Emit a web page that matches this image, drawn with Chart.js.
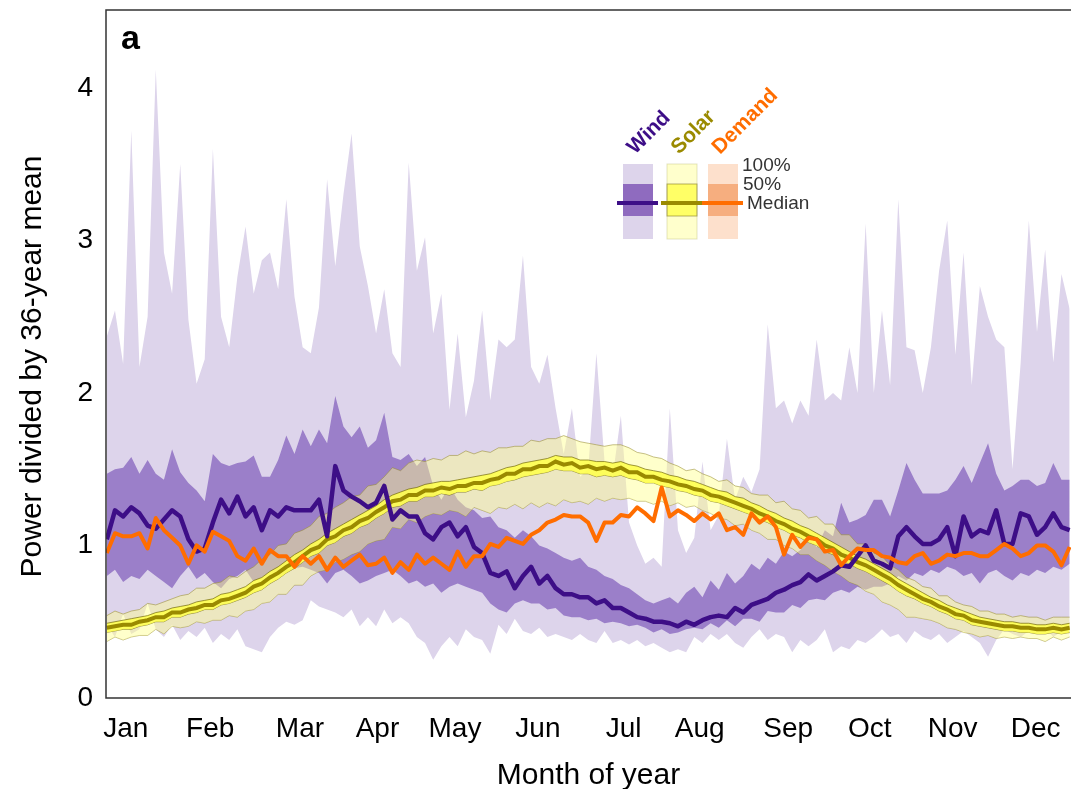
<!DOCTYPE html>
<html>
<head>
<meta charset="utf-8">
<script src="https://cdn.jsdelivr.net/npm/chart.js@4.4.1/dist/chart.umd.min.js"></script>
<style>
  html, body { margin: 0; padding: 0; background: #fff; overflow: hidden; }
</style>
</head>
<body>
<canvas id="chart" width="1071" height="789"></canvas>
<script>
// day of year for every sample
const days = [8,11,14,17,20,23,26,29,32,35,38,41,44,47,50,53,56,59,62,65,68,71,74,77,
  80,83,86,89,92,95,98,101,104,107,110,113,116,119,122,125,128,131,134,137,140,143,146,149,
  152,155,158,161,164,167,170,173,176,179,182,185,188,191,194,197,200,203,206,209,212,215,218,
  221,224,227,230,233,236,239,242,245,248,251,254,257,260,263,266,269,272,275,278,281,284,287,290,
  293,296,299,302,305,308,311,314,317,320,323,326,329,332,335,338,341,344,347,350,353,356,359,362];

const monthNames = ["Jan","Feb","Mar","Apr","May","Jun","Jul","Aug","Sep","Oct","Nov","Dec"];
const monthDays = [15,46,79,107.5,136,166.5,198,226,258.5,288.5,319,349.5];
const yTicks = [0,1,2,3,4];

const windMax = [2.37,2.54,2.19,3.72,2.17,2.50,4.12,2.92,2.65,3.50,2.48,2.06,2.22,3.60,2.50,2.30,2.76,3.09,2.65,2.87,2.92,2.68,3.27,2.63,
  2.30,2.26,2.56,3.40,2.83,3.30,3.70,2.96,2.70,2.39,2.68,2.26,2.17,3.51,2.80,3.02,2.39,2.65,1.89,2.39,1.84,2.08,2.54,1.95,
  2.35,2.30,2.35,2.90,2.17,2.06,2.25,1.90,1.60,1.90,1.45,1.50,2.26,1.55,1.45,1.85,1.15,1.00,0.88,0.92,0.86,1.90,1.10,
  0.95,1.05,1.55,1.10,1.20,1.70,1.30,1.45,1.35,1.50,2.45,1.90,1.95,1.80,1.95,1.85,2.35,1.95,2.00,1.95,2.30,2.00,3.11,2.00,
  2.54,2.05,3.27,2.30,2.28,2.00,2.30,2.80,3.13,2.25,2.92,2.05,2.70,2.50,2.35,2.30,1.50,2.20,3.13,2.40,2.94,2.20,2.78,2.55];

const windMin = [0.48,0.40,0.55,0.42,0.45,0.62,0.45,0.40,0.48,0.38,0.44,0.40,0.46,0.36,0.42,0.38,0.45,0.34,0.32,0.30,0.40,0.46,0.50,0.48,
  0.51,0.64,0.60,0.58,0.56,0.53,0.58,0.47,0.53,0.47,0.58,0.49,0.53,0.49,0.40,0.36,0.25,0.34,0.40,0.34,0.45,0.40,0.38,0.29,
  0.48,0.42,0.52,0.44,0.42,0.46,0.40,0.42,0.40,0.38,0.42,0.38,0.36,0.44,0.36,0.38,0.35,0.38,0.34,0.36,0.33,0.30,0.32,
  0.30,0.40,0.36,0.42,0.38,0.42,0.36,0.33,0.40,0.45,0.38,0.42,0.40,0.30,0.38,0.34,0.38,0.45,0.30,0.34,0.32,0.38,0.36,0.40,
  0.45,0.40,0.42,0.36,0.44,0.40,0.38,0.42,0.36,0.40,0.44,0.40,0.36,0.27,0.38,0.45,0.42,0.40,0.44,0.42,0.46,0.40,0.44,0.42];

const windQ75 = [1.47,1.50,1.51,1.58,1.47,1.56,1.47,1.43,1.63,1.48,1.41,1.36,1.29,1.60,1.54,1.52,1.54,1.55,1.59,1.45,1.45,1.56,1.72,1.60,
  1.76,1.65,1.76,1.67,1.98,1.78,1.71,1.78,1.64,1.69,1.87,1.58,1.56,1.60,1.52,1.58,1.39,1.30,1.39,1.30,1.25,1.23,1.18,1.19,
  1.12,1.10,1.05,1.10,1.06,1.00,0.98,0.95,0.92,0.90,0.92,0.86,0.84,0.80,0.78,0.74,0.72,0.68,0.64,0.62,0.64,0.66,0.62,
  0.69,0.73,0.66,0.77,0.71,0.82,0.75,0.80,0.88,0.84,0.92,0.88,0.96,0.93,0.97,1.04,0.99,1.10,1.06,1.28,1.15,1.17,1.20,1.30,
  1.30,1.19,1.36,1.54,1.43,1.34,1.34,1.34,1.36,1.43,1.52,1.41,1.54,1.67,1.47,1.36,1.39,1.43,1.43,1.39,1.41,1.54,1.43,1.43];

const windQ25 = [0.80,0.84,0.76,0.80,0.78,0.84,0.80,0.76,0.72,0.80,0.86,0.78,0.82,0.76,0.72,0.78,0.80,0.84,0.76,0.79,0.83,0.80,0.82,0.85,
  0.86,0.84,0.82,0.75,0.82,0.84,0.80,0.75,0.77,0.80,0.82,0.84,0.80,0.75,0.77,0.73,0.75,0.69,0.73,0.75,0.73,0.71,0.69,0.62,
  0.58,0.56,0.62,0.64,0.62,0.62,0.58,0.59,0.54,0.53,0.53,0.51,0.52,0.49,0.50,0.49,0.47,0.48,0.46,0.43,0.45,0.42,0.43,
  0.45,0.46,0.45,0.49,0.46,0.51,0.47,0.52,0.52,0.50,0.57,0.56,0.56,0.61,0.59,0.64,0.65,0.64,0.69,0.71,0.69,0.73,0.71,0.73,
  0.73,0.75,0.80,0.77,0.82,0.80,0.84,0.82,0.86,0.84,0.80,0.82,0.75,0.82,0.84,0.80,0.77,0.82,0.80,0.84,0.82,0.86,0.84,0.88];

const windMedian = [1.04,1.23,1.19,1.25,1.21,1.13,1.11,1.17,1.23,1.19,1.04,0.96,0.98,1.15,1.30,1.21,1.32,1.19,1.25,1.10,1.23,1.19,1.25,1.23,
  1.23,1.23,1.30,1.06,1.52,1.36,1.32,1.29,1.25,1.28,1.39,1.17,1.23,1.19,1.19,1.08,1.04,1.12,1.15,1.06,1.12,0.99,0.95,0.82,
  0.80,0.83,0.72,0.80,0.86,0.75,0.80,0.72,0.68,0.68,0.66,0.66,0.62,0.64,0.59,0.59,0.56,0.53,0.52,0.50,0.50,0.49,0.47,
  0.50,0.48,0.51,0.53,0.54,0.53,0.59,0.56,0.61,0.63,0.65,0.69,0.71,0.74,0.76,0.81,0.77,0.80,0.83,0.87,0.86,0.93,1.00,0.90,
  0.88,0.85,1.06,1.12,1.06,1.01,1.01,1.04,1.12,0.93,1.19,1.06,1.10,1.08,1.23,1.01,1.01,1.21,1.19,1.07,1.12,1.21,1.12,1.10];

const solarMax = [0.54,0.57,0.55,0.57,0.58,0.62,0.61,0.63,0.65,0.67,0.68,0.72,0.72,0.75,0.76,0.80,0.79,0.83,0.86,0.91,
  0.94,1.00,1.01,1.08,1.10,1.13,1.19,1.21,1.25,1.28,1.32,1.33,1.39,1.40,1.45,1.51,1.49,1.54,1.56,1.55,
  1.57,1.56,1.59,1.59,1.62,1.60,1.62,1.61,1.64,1.64,1.65,1.65,1.69,1.68,1.70,1.70,1.72,1.70,1.68,1.67,
  1.66,1.65,1.66,1.66,1.64,1.61,1.60,1.58,1.57,1.54,1.52,1.49,1.50,1.47,1.45,1.42,1.43,1.39,1.38,1.34,
  1.33,1.33,1.28,1.29,1.24,1.23,1.18,1.19,1.14,1.14,1.07,1.07,1.01,1.01,0.95,0.93,0.87,0.84,0.79,0.77,
  0.73,0.72,0.67,0.67,0.63,0.61,0.60,0.57,0.57,0.55,0.55,0.53,0.54,0.53,0.53,0.51,0.53,0.53,0.53];

const solarMin = [0.37,0.40,0.38,0.40,0.41,0.41,0.45,0.42,0.47,0.46,0.47,0.50,0.49,0.51,0.51,0.54,0.53,0.57,0.58,0.62,
  0.63,0.68,0.68,0.74,0.74,0.80,0.83,0.84,0.89,0.91,0.94,0.96,1.01,1.03,1.04,1.12,1.11,1.17,1.15,1.19,
  1.21,1.20,1.23,1.22,1.19,1.25,1.23,1.21,1.25,1.24,1.27,1.24,1.28,1.25,1.28,1.26,1.30,1.28,1.29,1.27,
  1.31,1.29,1.31,1.30,1.31,1.29,1.29,1.27,1.29,1.26,1.28,1.25,1.26,1.23,1.21,1.18,1.17,1.13,1.14,1.10,
  1.08,1.04,1.04,1.00,0.98,0.94,0.94,0.90,0.87,0.83,0.80,0.76,0.74,0.70,0.68,0.63,0.61,0.58,0.53,0.53,
  0.52,0.51,0.49,0.46,0.45,0.43,0.42,0.40,0.41,0.39,0.40,0.39,0.40,0.39,0.39,0.37,0.40,0.38,0.40];

const solarQ75 = [0.49,0.50,0.51,0.52,0.53,0.54,0.56,0.57,0.59,0.60,0.61,0.63,0.64,0.65,0.68,0.69,0.71,0.73,0.77,0.79,
  0.83,0.86,0.90,0.94,0.97,1.01,1.04,1.08,1.11,1.14,1.17,1.20,1.23,1.26,1.30,1.33,1.35,1.37,1.38,1.40,
  1.41,1.42,1.42,1.43,1.44,1.45,1.46,1.47,1.49,1.51,1.52,1.54,1.55,1.56,1.57,1.59,1.58,1.58,1.56,1.56,
  1.55,1.55,1.54,1.55,1.53,1.52,1.50,1.49,1.48,1.46,1.45,1.43,1.42,1.40,1.38,1.36,1.35,1.32,1.31,1.28,
  1.26,1.23,1.21,1.18,1.16,1.13,1.11,1.08,1.05,1.02,0.99,0.96,0.93,0.91,0.88,0.85,0.82,0.78,0.75,0.72,
  0.69,0.66,0.64,0.61,0.59,0.57,0.55,0.53,0.52,0.51,0.50,0.50,0.49,0.49,0.48,0.48,0.49,0.48,0.49];

const solarQ25 = [0.43,0.44,0.45,0.45,0.47,0.48,0.50,0.50,0.53,0.53,0.55,0.56,0.58,0.58,0.61,0.62,0.64,0.66,0.69,0.71,
  0.75,0.78,0.82,0.85,0.89,0.93,0.95,1.00,1.02,1.06,1.08,1.12,1.14,1.18,1.21,1.25,1.26,1.29,1.29,1.32,
  1.32,1.34,1.33,1.35,1.35,1.37,1.36,1.39,1.40,1.42,1.43,1.45,1.46,1.47,1.48,1.50,1.49,1.49,1.47,1.47,
  1.45,1.46,1.45,1.46,1.44,1.43,1.41,1.41,1.39,1.38,1.36,1.35,1.33,1.32,1.29,1.28,1.26,1.24,1.22,1.20,
  1.17,1.15,1.12,1.10,1.07,1.05,1.02,1.00,0.96,0.94,0.90,0.88,0.85,0.83,0.80,0.77,0.74,0.70,0.67,0.65,
  0.62,0.60,0.57,0.55,0.52,0.51,0.48,0.47,0.46,0.45,0.44,0.44,0.43,0.43,0.42,0.42,0.43,0.42,0.43];

const solarMedian = [0.46,0.47,0.48,0.48,0.50,0.51,0.53,0.53,0.56,0.56,0.58,0.59,0.61,0.61,0.64,0.65,0.67,0.69,0.73,0.75,
  0.79,0.82,0.86,0.89,0.93,0.97,0.99,1.04,1.06,1.10,1.12,1.16,1.18,1.22,1.25,1.29,1.30,1.33,1.33,1.36,
  1.36,1.38,1.37,1.39,1.39,1.41,1.41,1.43,1.44,1.47,1.47,1.50,1.50,1.52,1.52,1.55,1.53,1.54,1.51,1.52,
  1.50,1.51,1.49,1.51,1.48,1.48,1.45,1.45,1.43,1.42,1.40,1.39,1.37,1.36,1.33,1.32,1.30,1.28,1.26,1.24,
  1.21,1.19,1.16,1.14,1.11,1.09,1.06,1.04,1.00,0.98,0.94,0.92,0.89,0.87,0.84,0.81,0.78,0.74,0.71,0.68,
  0.65,0.63,0.60,0.58,0.55,0.54,0.51,0.50,0.49,0.48,0.47,0.47,0.46,0.46,0.45,0.45,0.46,0.45,0.46];

const demandMedian = [0.95,1.08,1.06,1.06,1.08,0.98,1.18,1.10,1.05,1.00,0.88,1.00,0.96,1.09,1.06,1.03,0.93,0.90,0.98,0.88,0.97,0.93,0.93,0.86,
  0.93,0.88,0.93,0.84,0.92,0.86,0.90,0.94,0.87,0.88,0.92,0.82,0.89,0.84,0.94,0.88,0.92,0.88,0.84,0.96,0.86,0.93,0.93,1.01,
  0.99,1.05,1.03,1.01,1.07,1.10,1.15,1.17,1.20,1.19,1.19,1.15,1.03,1.15,1.15,1.20,1.19,1.25,1.21,1.16,1.38,1.19,1.23,
  1.20,1.16,1.21,1.17,1.21,1.10,1.12,1.07,1.21,1.15,1.19,1.12,0.94,1.07,0.99,1.05,1.04,0.96,0.97,0.87,0.93,0.98,0.97,0.97,
  0.93,0.92,0.89,0.88,0.93,0.95,0.88,0.90,0.94,0.93,0.95,0.95,0.93,0.93,0.97,1.01,0.98,0.93,0.95,1.00,1.00,0.96,0.87,0.99];

const FONT = "'Liberation Sans', Arial, Helvetica, sans-serif";
const WIND = "#3d0e87", SOLAR = "#9a8a00", DEMAND = "#ff6d00";

const pts = arr => arr.map((v, i) => ({ x: days[i], y: v }));

function edge(data, order, opts) {
    return Object.assign({
        data: pts(data),
        order,
        fill: false,
        borderWidth: 0,
        borderColor: "transparent",
        pointRadius: 0,
        tension: 0
    }, opts);
}

// frame: left, top and bottom lines only (right side runs off the picture)
const framePlugin = {
    id: "frame",
    afterDatasetsDraw(chart) {
        const { ctx, chartArea: a } = chart;
        ctx.save();
        ctx.strokeStyle = "#333";
        ctx.lineWidth = 1.5;
        ctx.beginPath();
        ctx.moveTo(a.right + 5, a.top);
        ctx.lineTo(a.left, a.top);
        ctx.lineTo(a.left, a.bottom);
        ctx.lineTo(a.right + 5, a.bottom);
        ctx.stroke();
        ctx.restore();
    }
};

// panel letter and the boxed key
const keyPlugin = {
    id: "key",
    afterDraw(chart) {
        const ctx = chart.ctx;
        ctx.save();
        ctx.fillStyle = "#000";
        ctx.font = "bold 34px " + FONT;
        ctx.textBaseline = "alphabetic";
        ctx.fillText("a", 121, 49);

        const cols = [
            { x: 623, outer: "#ddd4eb", inner: "#8f6bbf", line: WIND, name: "Wind", stroke: null },
            { x: 667, outer: "#ffffcc", inner: "#ffff66", line: SOLAR, name: "Solar", stroke: "rgba(130,120,40,0.6)" },
            { x: 708, outer: "#fde0cc", inner: "#f6ae7f", line: DEMAND, name: "Demand", stroke: null }
        ];
        cols.forEach(c => {
            ctx.fillStyle = c.outer;
            ctx.fillRect(c.x, 164, 30, 75);
            ctx.fillStyle = c.inner;
            ctx.fillRect(c.x, 184, 30, 32);
            if (c.stroke) {
                ctx.strokeStyle = "rgba(200,200,140,0.5)";
                ctx.lineWidth = 1;
                ctx.strokeRect(c.x, 164, 30, 75);
                ctx.strokeStyle = c.stroke;
                ctx.strokeRect(c.x, 184, 30, 32);
            }
            ctx.strokeStyle = c.line;
            ctx.lineWidth = 4;
            ctx.beginPath();
            ctx.moveTo(c.x - 6, 203);
            ctx.lineTo(c.x + 35, 203);
            ctx.stroke();

            ctx.save();
            ctx.translate(c.x + 12, 155);
            ctx.rotate(-Math.PI / 4);
            ctx.fillStyle = c.line;
            ctx.font = "bold 21px " + FONT;
            ctx.textBaseline = "alphabetic";
            ctx.fillText(c.name, 0, 0);
            ctx.restore();
        });

        ctx.fillStyle = "#333";
        ctx.font = "19px " + FONT;
        ctx.textBaseline = "middle";
        ctx.fillText("100%", 742, 166);
        ctx.fillText("50%", 743, 185);
        ctx.fillText("Median", 747, 204);
        ctx.restore();
    }
};

const ctx = document.getElementById("chart").getContext("2d");

new Chart(ctx, {
    type: "line",
    data: {
        datasets: [
            edge(windMax, 10, { fill: 1, backgroundColor: "#ddd4eb" }),
            edge(windMin, 10),
            edge(windQ75, 9, { fill: 3, backgroundColor: "#9b7fc9" }),
            edge(windQ25, 9),
            edge(solarMax, 8, { fill: 5, backgroundColor: "rgba(255,255,140,0.45)", borderWidth: 0.8, borderColor: "rgba(150,140,50,0.7)" }),
            edge(solarMin, 8, { borderWidth: 0.8, borderColor: "rgba(150,140,50,0.7)" }),
            edge(solarQ75, 7, { fill: 7, backgroundColor: "rgba(255,255,80,0.9)", borderWidth: 0.8, borderColor: "rgba(100,90,0,0.8)" }),
            edge(solarQ25, 7, { borderWidth: 0.8, borderColor: "rgba(100,90,0,0.8)" }),
            edge(solarMedian, 6, { borderWidth: 4, borderColor: SOLAR }),
            edge(windMedian, 5, { borderWidth: 4.5, borderColor: WIND, borderJoinStyle: "round" }),
            edge(demandMedian, 4, { borderWidth: 4, borderColor: DEMAND, borderJoinStyle: "round" })
        ]
    },
    options: {
        responsive: false,
        animation: false,
        layout: { padding: { top: 10, right: 0, bottom: 0, left: 0 } },
        plugins: {
            legend: { display: false },
            tooltip: { enabled: false },
            filler: { propagate: false }
        },
        scales: {
            x: {
                type: "linear",
                min: 7.7,
                max: 362.5,
                grid: { display: false, drawTicks: false },
                border: { display: false },
                afterBuildTicks: s => { s.ticks = monthDays.map(v => ({ value: v })); },
                afterFit: s => { s.height = 91; s.paddingLeft = 0; s.paddingRight = 0; },
                ticks: {
                    autoSkip: false,
                    maxRotation: 0,
                    padding: 14,
                    color: "#000",
                    font: { family: FONT, size: 28 },
                    callback: (v, i) => monthNames[i]
                },
                title: {
                    display: true,
                    text: "Month of year",
                    color: "#000",
                    font: { family: FONT, size: 30, lineHeight: 1 },
                    padding: { top: 0, bottom: -2 }
                }
            },
            y: {
                min: 0,
                max: 4.51,
                grid: { display: false, drawTicks: false },
                border: { display: false },
                afterBuildTicks: s => { s.ticks = yTicks.map(v => ({ value: v })); },
                afterFit: s => { s.width = 106; s.paddingTop = 0; s.paddingBottom = 0; },
                ticks: {
                    padding: 13,
                    color: "#000",
                    font: { family: FONT, size: 28 }
                },
                title: {
                    display: true,
                    // trailing spaces nudge the rotated text a little lower, as in the original
                    text: "Power divided by 36-year mean   ",
                    color: "#000",
                    font: { family: FONT, size: 30, lineHeight: 1 },
                    padding: { top: 18, bottom: 0 }
                }
            }
        }
    },
    plugins: [framePlugin, keyPlugin]
});
</script>
</body>
</html>
